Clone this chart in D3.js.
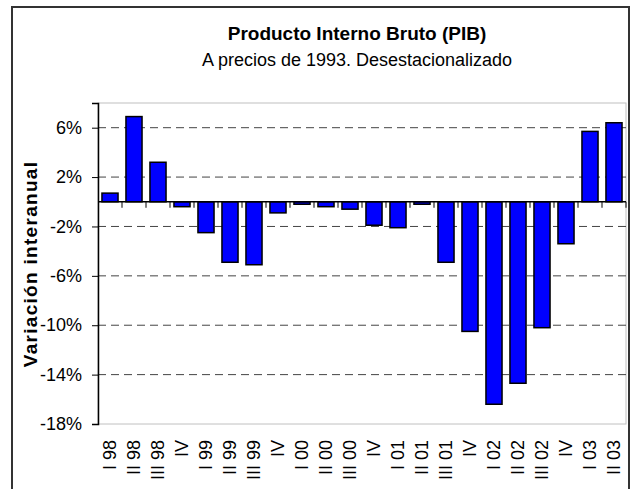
<!DOCTYPE html>
<html>
<head>
<meta charset="utf-8">
<script src="https://cdn.jsdelivr.net/npm/d3@7"></script>
<style>
    body { margin: 0; background: #fff; }
    text { font-family: "Liberation Sans", Arial, sans-serif; }
</style>
</head>
<body>
<div id="chart"></div>
<script>
//quarters, as printed under the axis
var quarters = ["I 98", "II 98", "III 98", "IV", "I 99", "II 99", "III 99", "IV",
    "I 00", "II 00", "III 00", "IV", "I 01", "II 01", "III 01", "IV",
    "I 02", "II 02", "III 02", "IV", "I 03", "II 03"];

//year on year change, percent
var variacion = [0.7, 6.9, 3.2, -0.4, -2.5, -4.9, -5.1, -0.9,
    -0.2, -0.4, -0.6, -1.9, -2.1, -0.2, -4.9, -10.5,
    -16.4, -14.7, -10.2, -3.4, 5.7, 6.4];

var yticks = [6, 2, -2, -6, -10, -14, -18];
var ydomain = [-18, 8];

var titulo = "Producto Interno Bruto (PIB)";
var subtitulo = "A precios de 1993. Desestacionalizado";
var ylabel = "Variación interanual";

var width = 631, height = 489;
var plot = { left: 98, top: 103, right: 626, bottom: 424 };

var svg = d3.select("#chart")
    .append("svg")
    .attr("width", width)
    .attr("height", height)

//"IV" repeats, so the band scale runs on the index
var x = d3.scaleBand()
    .domain(d3.range(quarters.length))
    .range([plot.left, plot.right])
    .paddingInner(0.33)
    .paddingOuter(0.165)

var y = d3.scaleLinear()
    .domain(ydomain)
    .range([plot.bottom, plot.top])

//outer frame, bottom edge runs off the picture
svg.append("rect")
    .attr("x", 12)
    .attr("y", 7)
    .attr("width", 617)
    .attr("height", 500)
    .attr("fill", "none")
    .attr("stroke", "#333")
    .attr("stroke-width", 2)

//plot area border
svg.append("rect")
    .attr("x", plot.left)
    .attr("y", plot.top)
    .attr("width", plot.right - plot.left)
    .attr("height", plot.bottom - plot.top)
    .attr("fill", "none")
    .attr("stroke", "#c0c0c0")

//titles
svg.append("text")
    .attr("x", 357)
    .attr("y", 40)
    .attr("text-anchor", "middle")
    .style("font-size", "19px")
    .style("font-weight", "bold")
    .text(titulo)

svg.append("text")
    .attr("x", 357)
    .attr("y", 66)
    .attr("text-anchor", "middle")
    .style("font-size", "18px")
    .text(subtitulo)

//dashed grid
svg.append("g")
    .selectAll("line")
    .data(yticks.filter(function(d) { return d != ydomain[0]; }))
    .join("line")
    .attr("x1", plot.left)
    .attr("x2", plot.right)
    .attr("y1", function(d) { return y(d); })
    .attr("y2", function(d) { return y(d); })
    .attr("stroke", "#444")
    .attr("stroke-dasharray", "8,5")

//bars
svg.append("g")
    .selectAll("rect")
    .data(variacion)
    .join("rect")
    .attr("x", function(d, i) { return x(i); })
    .attr("width", x.bandwidth())
    .attr("y", function(d) { return y(Math.max(0, d)); })
    .attr("height", function(d) { return Math.abs(y(d) - y(0)); })
    .attr("fill", "#0000ff")
    .attr("stroke", "#000")
    .attr("stroke-width", 1.5)

//y axis
var yaxis = svg.append("g")
    .attr("transform", "translate(" + plot.left + ",0)")
    .call(d3.axisLeft(y)
        .tickValues(yticks)
        .tickSize(6)
        .tickPadding(10)
        .tickFormat(function(d) { return d + "%"; }))

yaxis.select(".domain").attr("stroke", "#000").attr("stroke-width", 1.5)
yaxis.selectAll(".tick line").attr("stroke", "#000")
yaxis.selectAll(".tick text")
    .style("font-size", "18px")
    .attr("fill", "#000")
    .style("font-family", "Liberation Sans, Arial, sans-serif")

//zero line with ticks between categories
svg.append("line")
    .attr("x1", plot.left)
    .attr("x2", plot.right)
    .attr("y1", y(0))
    .attr("y2", y(0))
    .attr("stroke", "#000")
    .attr("stroke-width", 1.5)

var edges = d3.range(quarters.length + 1).map(function(i) {
    return plot.left + i * x.step();
})

svg.append("g")
    .selectAll("line")
    .data(edges.slice(1))
    .join("line")
    .attr("x1", function(d) { return d; })
    .attr("x2", function(d) { return d; })
    .attr("y1", y(0))
    .attr("y2", y(0) + 6)
    .attr("stroke", "#000")

//category labels, rotated
svg.append("g")
    .selectAll("text")
    .data(quarters)
    .join("text")
    .attr("transform", function(d, i) {
        return "translate(" + (x(i) + x.bandwidth() / 2) + ",440) rotate(-90)";
    })
    .attr("dy", "0.35em")
    .attr("text-anchor", "end")
    .style("font-size", "18px")
    .text(function(d) { return d; })

//y axis title
svg.append("text")
    .attr("transform", "translate(37,264) rotate(-90)")
    .attr("text-anchor", "middle")
    .style("font-size", "19px")
    .style("font-weight", "bold")
    .style("letter-spacing", "1.3px")
    .text(ylabel)
</script>
</body>
</html>
